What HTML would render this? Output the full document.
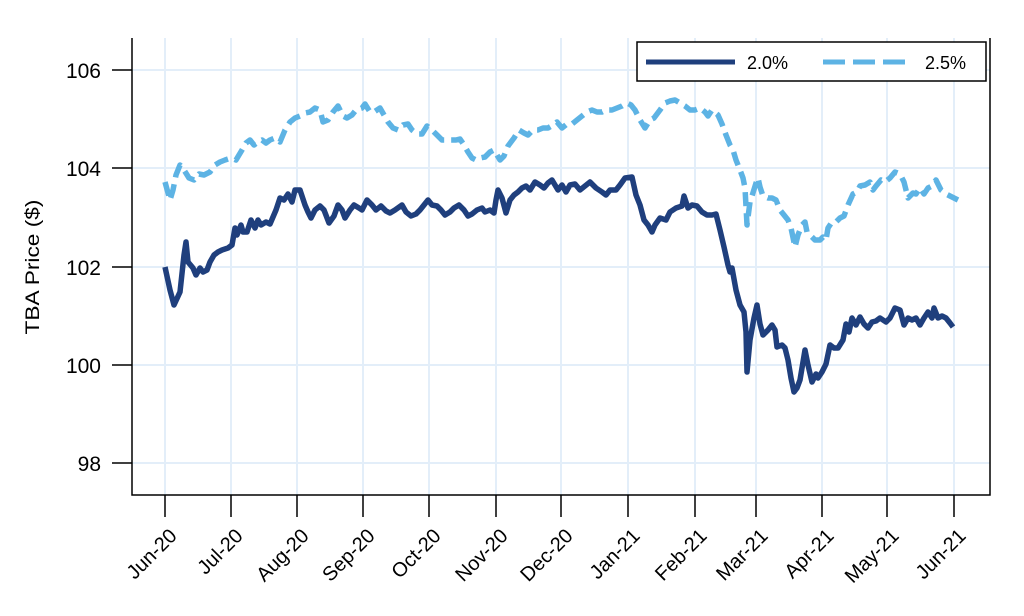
<!DOCTYPE html>
<html><head><style>body{margin:0;background:#fff}svg{display:block}text{font-family:"Liberation Sans",sans-serif;fill:#000}</style></head><body>
<svg width="1024" height="616" viewBox="0 0 1024 616">
<g stroke="#e3eef9" stroke-width="2">
<line x1="132" y1="70" x2="990" y2="70"/><line x1="132" y1="168" x2="990" y2="168"/><line x1="132" y1="267" x2="990" y2="267"/><line x1="132" y1="365" x2="990" y2="365"/><line x1="132" y1="463" x2="990" y2="463"/>
<line x1="165" y1="38" x2="165" y2="495"/><line x1="231" y1="38" x2="231" y2="495"/><line x1="297" y1="38" x2="297" y2="495"/><line x1="363" y1="38" x2="363" y2="495"/><line x1="429" y1="38" x2="429" y2="495"/><line x1="496" y1="38" x2="496" y2="495"/><line x1="561" y1="38" x2="561" y2="495"/><line x1="628" y1="38" x2="628" y2="495"/><line x1="695" y1="38" x2="695" y2="495"/><line x1="756" y1="38" x2="756" y2="495"/><line x1="822" y1="38" x2="822" y2="495"/><line x1="887" y1="38" x2="887" y2="495"/><line x1="954" y1="38" x2="954" y2="495"/>
</g>
<g stroke="#000" stroke-width="1.5" fill="none">
<polyline points="132,38 132,495 990,495 990,38"/>
<line x1="112" y1="70" x2="132" y2="70"/><line x1="112" y1="168" x2="132" y2="168"/><line x1="112" y1="267" x2="132" y2="267"/><line x1="112" y1="365" x2="132" y2="365"/><line x1="112" y1="463" x2="132" y2="463"/>
<line x1="165" y1="495" x2="165" y2="517"/><line x1="231" y1="495" x2="231" y2="517"/><line x1="297" y1="495" x2="297" y2="517"/><line x1="363" y1="495" x2="363" y2="517"/><line x1="429" y1="495" x2="429" y2="517"/><line x1="496" y1="495" x2="496" y2="517"/><line x1="561" y1="495" x2="561" y2="517"/><line x1="628" y1="495" x2="628" y2="517"/><line x1="695" y1="495" x2="695" y2="517"/><line x1="756" y1="495" x2="756" y2="517"/><line x1="822" y1="495" x2="822" y2="517"/><line x1="887" y1="495" x2="887" y2="517"/><line x1="954" y1="495" x2="954" y2="517"/>
</g>
<g font-size="21" text-anchor="end">
<text x="101" y="78">106</text><text x="101" y="176">104</text><text x="101" y="275">102</text><text x="101" y="373">100</text><text x="101" y="471">98</text>
</g>
<text transform="translate(39,267) rotate(-90)" font-size="19" text-anchor="middle" textLength="135" lengthAdjust="spacingAndGlyphs">TBA Price ($)</text>
<g font-size="20" text-anchor="end">
<text transform="translate(178,537) rotate(-45)">Jun-20</text>
<text transform="translate(244,537) rotate(-45)">Jul-20</text>
<text transform="translate(310,537) rotate(-45)">Aug-20</text>
<text transform="translate(376,537) rotate(-45)">Sep-20</text>
<text transform="translate(442,537) rotate(-45)">Oct-20</text>
<text transform="translate(509,537) rotate(-45)">Nov-20</text>
<text transform="translate(574,537) rotate(-45)">Dec-20</text>
<text transform="translate(641,537) rotate(-45)">Jan-21</text>
<text transform="translate(708,537) rotate(-45)">Feb-21</text>
<text transform="translate(769,537) rotate(-45)">Mar-21</text>
<text transform="translate(835,537) rotate(-45)">Apr-21</text>
<text transform="translate(900,537) rotate(-45)">May-21</text>
<text transform="translate(967,537) rotate(-45)">Jun-21</text>
</g>
<polyline fill="none" stroke="#5db3e4" stroke-width="5.5" stroke-dasharray="14,7" stroke-linejoin="round" points="165,182 170,200 173,190 176,175 180,165 184,170 189,178 194,180 199,174 204,175 210,172 215,165 220,162 225,160 231,158 236,160 242,150 246,143 250,140 254,145 258,142 262,140 266,143 270,140 275,138 280,142 285,130 290,122 295,118 300,116 305,113 310,112 315,108 320,110 323,122 328,120 333,112 338,106 343,116 347,118 352,115 356,110 362,108 365,104 370,112 374,112 380,108 384,115 388,122 393,128 398,130 403,125 408,124 412,130 417,134 422,134 427,126 432,130 437,135 442,140 447,140 451,140 456,140 460,139 464,145 468,152 472,158 476,160 480,158 485,157 490,152 494,150 497,155 500,160 504,156 508,146 514,138 519,130 524,133 528,135 533,130 538,130 543,128 548,128 553,125 557,122 562,128 567,124 572,124 577,120 582,116 587,112 592,110 597,112 602,112 606,110 612,110 617,108 622,106 627,103 631,105 635,110 640,120 645,128 650,120 654,118 660,110 665,103 670,101 675,100 680,103 685,106 690,110 695,110 700,108 705,112 708,116 712,110 718,115 722,124 726,135 730,145 733,150 736,160 740,170 743,178 745,188 747,225 750,202 752,196 756,183 758,178 760,187 763,196 768,198 772,198 776,200 780,210 784,215 788,220 791,228 795,247 798,235 802,225 805,222 807,232 812,237 815,240 820,240 823,237 826,240 828,228 832,222 836,222 840,218 844,216 848,205 853,194 857,192 860,186 865,185 870,182 873,190 876,186 881,180 885,182 890,178 895,172 900,174 904,182 908,198 913,193 916,194 920,188 924,194 928,188 932,186 936,180 941,190 946,194 952,197 958,200"/>
<polyline fill="none" stroke="#1f3f7d" stroke-width="5.5" stroke-linejoin="round" points="165,267 170,290 174,305 180,292 184,255 186,242 188,262 193,268 196,275 200,268 203,272 207,270 210,262 214,255 218,252 222,250 228,248 232,245 235,228 237,235 241,225 243,232 247,232 251,220 255,228 258,220 261,225 266,222 270,224 276,210 280,198 284,200 288,194 292,202 295,190 300,190 305,205 308,212 311,218 315,210 320,206 324,210 329,223 334,216 338,205 342,210 345,218 350,210 354,205 359,208 362,210 367,200 372,205 376,210 381,206 386,211 390,213 395,210 402,205 406,212 411,216 416,214 420,210 424,205 428,200 432,205 437,206 441,210 445,215 450,212 454,208 459,205 464,210 468,216 472,214 477,210 482,208 485,212 490,210 494,213 496,200 498,190 502,198 506,213 510,200 514,195 518,192 522,188 526,186 530,190 535,182 540,185 544,188 548,183 552,180 558,190 562,185 566,192 570,185 575,184 580,190 585,186 590,182 596,188 602,192 606,195 610,190 616,190 620,185 625,178 632,177 636,195 640,205 644,220 648,225 652,232 655,225 660,218 666,220 670,212 676,208 682,206 684,196 688,208 692,205 697,206 702,212 707,215 712,215 716,214 720,230 724,247 728,265 730,272 732,268 736,290 740,305 744,312 746,332 747,372 750,340 754,318 757,305 760,324 763,335 768,330 772,325 775,330 777,347 782,345 785,348 788,360 791,378 794,392 797,388 800,380 805,350 808,365 812,382 816,374 818,378 822,372 826,364 830,345 834,348 838,348 843,340 846,324 849,332 852,318 856,325 860,317 864,324 868,328 872,322 876,321 880,318 886,322 890,318 895,308 900,310 904,325 908,318 912,320 916,318 920,325 924,318 928,312 932,318 934,308 938,318 942,316 946,318 950,323 953,327"/>
<rect x="637" y="42" width="349" height="39" fill="#fff" stroke="#000" stroke-width="1.5"/>
<line x1="646" y1="62" x2="735" y2="62" stroke="#1f3f7d" stroke-width="5"/>
<text x="747" y="69" font-size="18">2.0%</text>
<line x1="823" y1="62" x2="913" y2="62" stroke="#5db3e4" stroke-width="5" stroke-dasharray="22,8"/>
<text x="925" y="69" font-size="18">2.5%</text>
</svg>
</body></html>
